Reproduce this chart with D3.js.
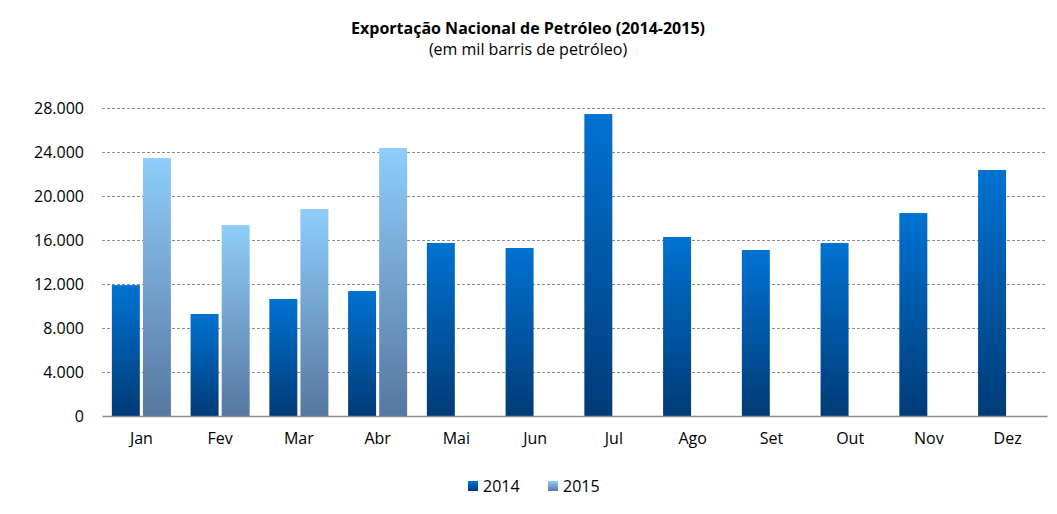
<!DOCTYPE html>
<html><head><meta charset="utf-8">
<script src="https://cdn.jsdelivr.net/npm/d3@7"></script>
<style>body{margin:0;background:#fff}svg{display:block}text{font-family:"Open Sans","Liberation Sans",sans-serif;fill:#000}</style>
</head><body>
<svg id="c" width="1057" height="514"></svg>
<script>
const months = ["Jan","Fev","Mar","Abr","Mai","Jun","Jul","Ago","Set","Out","Nov","Dez"];
const series2014 = [11900,9270,10640,11360,15730,15270,27450,16270,15090,15730,18450,22360];
const series2015 = [23450,17360,18820,24360,null,null,null,null,null,null,null,null];
const seriesNames = ["2014","2015"];
const yTicks = [0,4000,8000,12000,16000,20000,24000,28000];
const title = "Exportação Nacional de Petróleo (2014-2015)";
const subtitle = "(em mil barris de petróleo)";

const svg = d3.select("#c");
const m={l:102,r:1047,t:108,b:416};
const x = d3.scaleBand().domain(months).range([m.l,m.r]).paddingInner(0.25).paddingOuter(0.125);
const xs = d3.scaleBand().domain(seriesNames).range([0,x.bandwidth()]).paddingInner(0.1);
const y = d3.scaleLinear().domain([0,28000]).range([m.b,m.t]);
const FONT = "'Open Sans','Liberation Sans',sans-serif";

const defs = svg.append("defs");
const g1 = defs.append("linearGradient").attr("id","g2014").attr("x1",0).attr("y1",0).attr("x2",0).attr("y2",1);
g1.append("stop").attr("offset","0%").attr("stop-color","#0072d2");
g1.append("stop").attr("offset","100%").attr("stop-color","#003b77");
const g2 = defs.append("linearGradient").attr("id","g2015").attr("x1",0).attr("y1",0).attr("x2",0).attr("y2",1);
g2.append("stop").attr("offset","0%").attr("stop-color","#8fcdfa");
g2.append("stop").attr("offset","100%").attr("stop-color","#5677a0");

svg.append("text").attr("x",528).attr("y",34).attr("text-anchor","middle")
  .style("font-size","16px").style("font-weight","bold").text(title);
svg.append("text").attr("x",528).attr("y",55).attr("text-anchor","middle")
  .style("font-size","16px").text(subtitle);

const fmt = d => d3.format(",")(d).replace(/,/g,".");
svg.append("g").selectAll("line").data(yTicks.filter(d=>d>0)).join("line")
  .attr("x1",m.l).attr("x2",m.r).attr("y1",d=>y(d)+0.5).attr("y2",d=>y(d)+0.5)
  .attr("stroke","#8c8c8c").attr("stroke-width",1).attr("stroke-dasharray","3,2");

const yAxis = svg.append("g").attr("transform",`translate(${m.l},0)`)
  .call(d3.axisLeft(y).tickValues(yTicks).tickFormat(fmt).tickSize(0).tickPadding(18));
yAxis.select(".domain").remove();
yAxis.selectAll("text").style("font-size","16px").style("font-family",FONT);

const data = [];
months.forEach((mo,i)=>{
  if(series2014[i]!=null) data.push({m:mo,s:"2014",v:series2014[i]});
  if(series2015[i]!=null) data.push({m:mo,s:"2015",v:series2015[i]});
});
svg.append("g").selectAll("rect").data(data).join("rect")
  .attr("x",d=>x(d.m)+xs(d.s)).attr("width",xs.bandwidth())
  .attr("y",d=>y(d.v)).attr("height",d=>y(0)-y(d.v))
  .attr("fill",d=>`url(#g${d.s})`);

const xAxis = svg.append("g").attr("transform",`translate(0,${m.b})`)
  .call(d3.axisBottom(x).tickSize(0).tickPadding(17));
xAxis.select(".domain").attr("stroke","#8c8c8c").attr("stroke-width",1.5);
xAxis.selectAll("text").style("font-size","16px").style("font-family",FONT);

const leg = svg.append("g");
const lx = [468,548];
seriesNames.forEach((s,i)=>{
  leg.append("rect").attr("x",lx[i]).attr("y",481).attr("width",10).attr("height",10).attr("fill",`url(#g${s})`);
  leg.append("text").attr("x",lx[i]+15).attr("y",492).style("font-size","16px").text(s);
});
</script>
</body></html>
